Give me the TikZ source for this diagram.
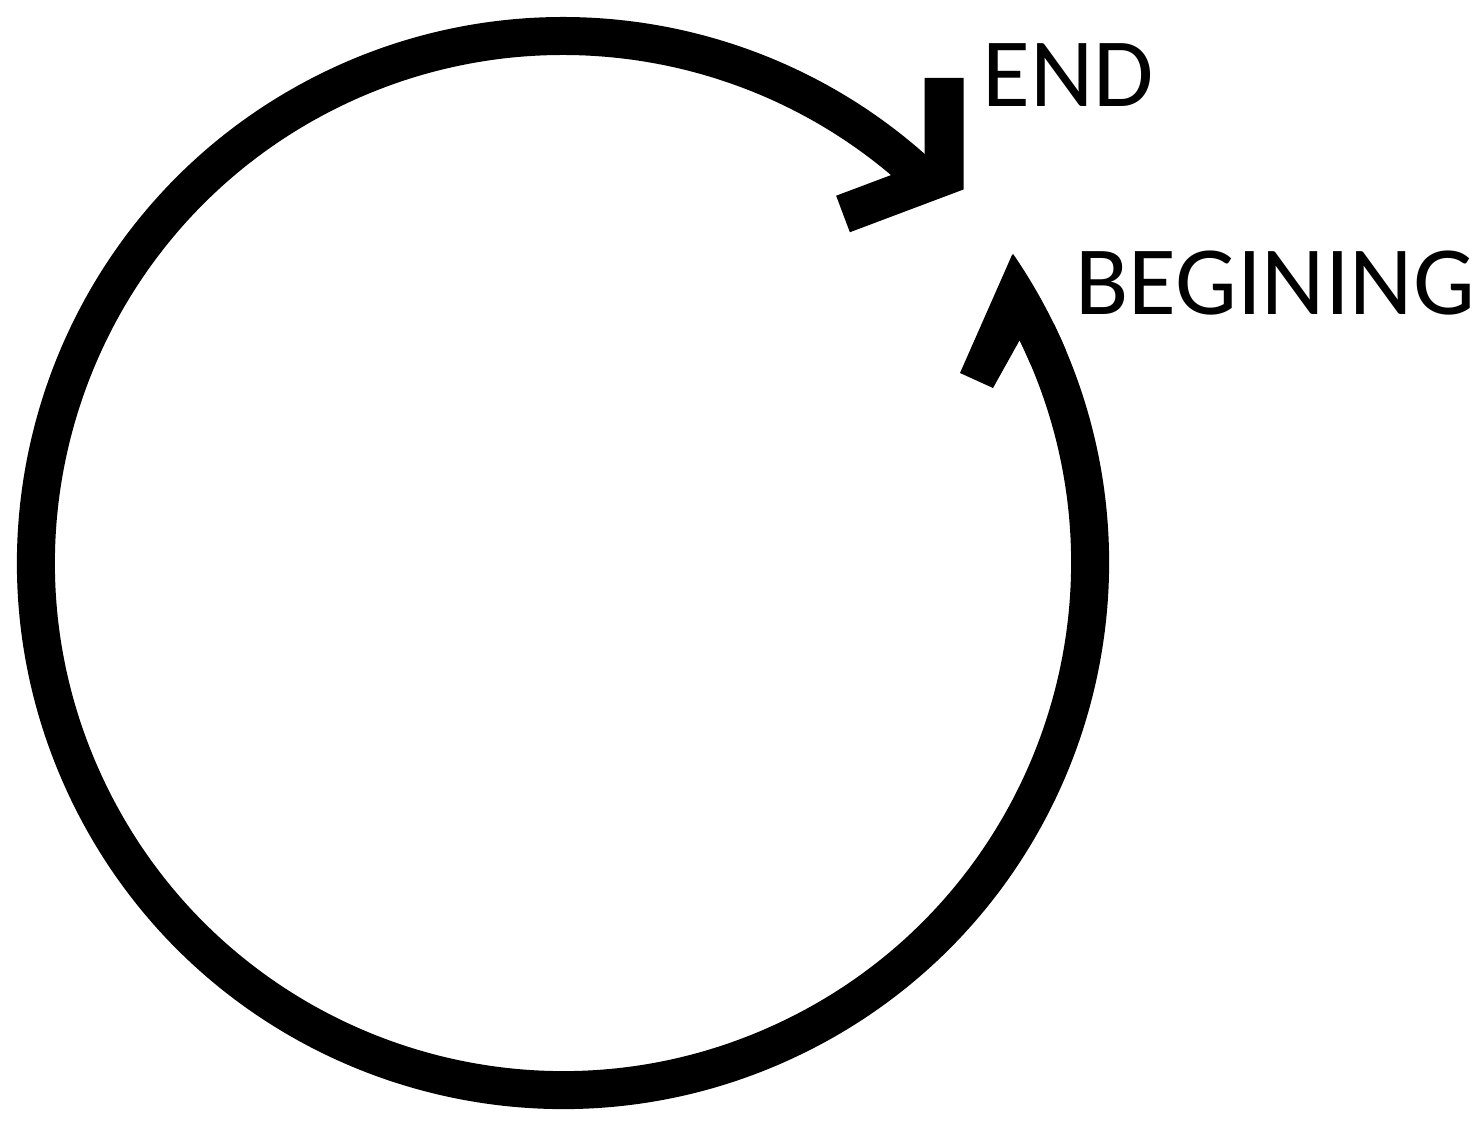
\documentclass[tikz,border=0pt]{standalone}
\usepackage{fontspec}
\setmainfont{Carlito}
\usetikzlibrary{calc}
\tikzset{
  ring/.style={line width=38pt, line cap=butt, black},
  chevron/.style={line width=39pt, line cap=butt, line join=miter, black},
  lbl/.style={anchor=base west, inner sep=0pt, font=\fontsize{98}{98}\selectfont}
}
\begin{document}
\begin{tikzpicture}[x=1pt,y=1pt]
\useasboundingbox (0,0) rectangle (1482,1123);
\coordinate (c) at (563,560);
% main ring arc
\draw[ring] (c) ++(26:527) arc[start angle=26, end angle=-314, radius=527];
% END chevron
\coordinate (e1) at (944,1045);
\coordinate (e2) at (944,947);
\coordinate (e3) at (843,909);
\draw[chevron] (e1) -- (e2) -- (e3);
% BEGINING half arrowhead (overlaps start of arc to avoid a seam)
\coordinate (tip) at (1012,868);
\coordinate (b1) at (993,735);
\coordinate (b2) at (960,750);
\fill[black] (c) ++(34.45:546) arc[start angle=34.45, end angle=23, radius=546]
  -- ($(c)+(23:508)$) arc[start angle=23, end angle=26, radius=508]
  -- (b1) -- (b2) -- (tip) -- cycle;
\node[lbl] (endl) at (982,1016) {END};
\node[lbl] (begl) at (1075,808) {BEGINING};
\end{tikzpicture}
\end{document}
